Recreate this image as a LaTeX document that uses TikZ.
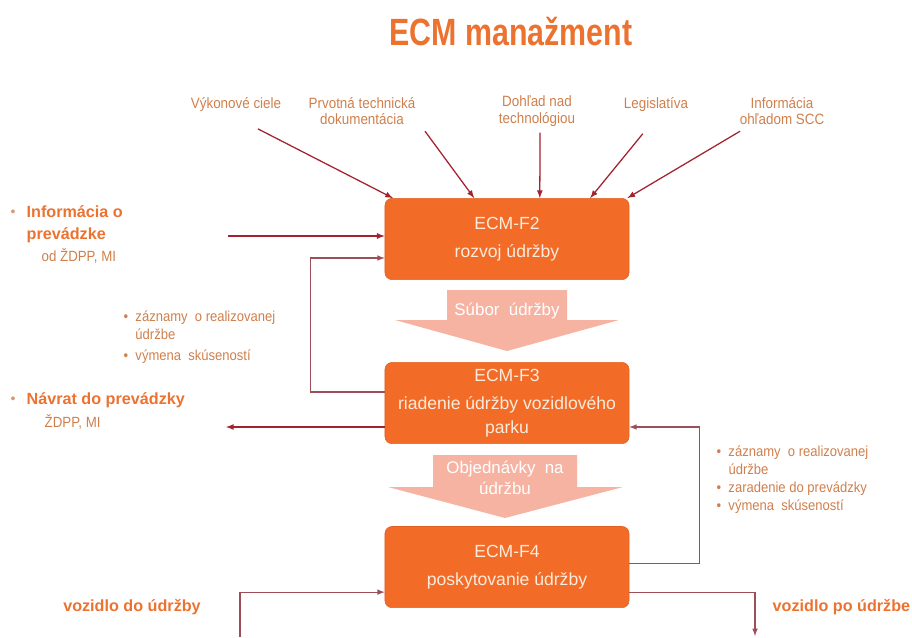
\documentclass[tikz,border=0pt]{standalone}
\usepackage{fontspec}
\setmainfont{Liberation Sans}
\newfontfamily\narrowfont[FakeStretch=0.9]{Liberation Sans}
\newfontfamily\titlefont[FakeStretch=0.8]{Liberation Sans}
\usetikzlibrary{positioning, arrows}

\definecolor{ecmorange}{HTML}{F26B27}
\definecolor{ecmtext}{HTML}{FDEBDB}
\definecolor{ecmline}{HTML}{A3222E}
\definecolor{ecmback}{HTML}{9C4F58}
\definecolor{ecmlabel}{HTML}{EC7230}
\definecolor{ecmsoft}{HTML}{CF7F4C}
\definecolor{ecmpink}{HTML}{F7B3A2}

\tikzset{
  ecmbox/.style={rectangle, rounded corners=5pt, fill=ecmorange, draw=ecmorange!92!black,
    minimum width=6.1cm, minimum height=2.03cm, align=center, text=ecmtext,
    font=\fontsize{12.5}{17}\selectfont},
  flowtext/.style={text=white, align=center, font=\fontsize{12}{14.5}\selectfont},
  topnote/.style={text=ecmsoft, align=center, inner sep=1pt, font=\narrowfont\fontsize{10.6}{11.6}\selectfont},
  boldnote/.style={text=ecmlabel, align=left, inner sep=1pt, font=\bfseries\fontsize{11.5}{15.5}\selectfont},
  softnote/.style={text=ecmsoft, inner sep=1pt, font=\narrowfont\fontsize{10.5}{11}\selectfont},
  listnote/.style={text=ecmsoft, align=left, inner sep=1pt, font=\narrowfont\fontsize{10.3}{12.8}\selectfont},
  dot/.style={text=ecmsoft!80, inner sep=0pt, font=\fontsize{10}{10}\selectfont},
  flowline/.style={draw=ecmline, line width=0.9pt},
  backline/.style={draw=ecmback, line width=0.8pt},
}

\begin{document}
\begin{tikzpicture}[x=0.025cm, y=-0.025cm, node distance=4.1cm, on grid, >=latex]
    \useasboundingbox (0,0) rectangle (912,637);

    \node[text=ecmlabel, font=\titlefont\bfseries\fontsize{27}{30}\selectfont] (ecm) at (511,32) {ECM manažment};

    % main functions
    \node[ecmbox] (f_2) at (507,239) {ECM-F2\\[3pt]rozvoj údržby};
    \node[ecmbox] (f_3) [below=of f_2] {ECM-F3\\[3pt]riadenie údržby vozidlového\\parku};
    \node[ecmbox] (f_4) [below=of f_3] {ECM-F4\\[3pt]poskytovanie údržby};

    % block arrows between functions
    \fill[ecmpink] (447,290) -- (567,290) -- (567,320) -- (619,320) -- (507,351)
        -- (395,320) -- (447,320) -- cycle;
    \node[flowtext] (subor) at (507,311) {Súbor\ \ údržby};
    \fill[ecmpink] (433,455) -- (577,455) -- (577,487) -- (623,487) -- (505,518)
        -- (388,487) -- (433,487) -- cycle;
    \node[flowtext] (objed) at (505,478) {Objednávky\ \ na\\údržbu};

    % inputs from above
    \node[topnote] (ciele) at (236,105) {Výkonové ciele};
    \node[topnote] (dokum) at (362,111) {Prvotná technická\\dokumentácia};
    \node[topnote] (dohlad) at (537,111) {Dohľad nad\\technológiou};
    \node[topnote] (legis) at (656,105) {Legislatíva};
    \node[topnote] (scc) at (782,111) {Informácia\\ohľadom SCC};
    \draw[->, flowline] ([xshift=0.55cm, yshift=-0.38cm]ciele.south) -- ([xshift=-2.85cm]f_2.north);
    \draw[->, flowline] ([xshift=0.2cm, yshift=-0.12cm]dokum.south east) -- ([xshift=-0.82cm]f_2.north);
    \draw[->, flowline] ([xshift=0.075cm, yshift=-0.12cm]dohlad.south) -- ([xshift=0.82cm]f_2.north);
    \draw[->, flowline] ([xshift=-0.33cm, yshift=-0.5cm]legis.south) -- ([xshift=2.08cm]f_2.north);
    \draw[->, flowline] ([xshift=0.05cm, yshift=-0.12cm]scc.south west) -- ([xshift=-0.05cm]f_2.north east);

    % left side
    \node[dot] (dot_1) at (13,213) {•};
    \node[boldnote, anchor=west] (prev_in) at (25,224) {Informácia o\\prevádzke};
    \node[softnote, anchor=west] (zdpp_1) at (40,256) {od ŽDPP, MI};
    \node[dot] (dot_2) at (13,400) {•};
    \node[boldnote, anchor=west] (navrat) at (25,400) {Návrat do prevádzky};
    \node[softnote, anchor=west] (zdpp_2) at (43,422) {ŽDPP, MI};
    \node[listnote, anchor=north west] (zaz_l) at (122,309)
        {•\ \ záznamy\ \ o realizovanej\\\hphantom{•\ \ }údržbe\\[2pt]•\ \ výmena\ \ skúseností};

    % right side
    \node[listnote, anchor=north west] (zaz_r) at (715,444)
        {•\ \ záznamy\ \ o realizovanej\\\hphantom{•\ \ }údržbe\\•\ \ zaradenie\ do prevádzky\\•\ \ výmena\ \ skúseností};

    % vehicles
    \node[boldnote] (veh_do) at (132,607) {vozidlo do údržby};
    \node[boldnote, anchor=west] (veh_po) at (771,607) {vozidlo po údržbe};

    % connectors
    \coordinate (in_l) at (228,236);
    \coordinate (out_l) at (226,427);
    \coordinate (veh_in) at (240,637);
    \coordinate (veh_out) at (755,636);
    \draw[->, flowline] (in_l) -- (in_l -| f_2.west);
    \draw[->, backline] ([yshift=0.275cm]f_3.west) -- ++(-74,0) |- ([yshift=-0.475cm]f_2.west);
    \draw[->, flowline] (out_l -| f_3.west) -- (out_l);
    \draw[->, backline] ([yshift=0.1cm]f_4.east) -- ++(70,0) |- (out_l -| f_3.east);
    \draw[->, backline] ([yshift=-0.625cm]f_4.east) -| (veh_out);
    \draw[->, backline] (veh_in) |- ([yshift=-0.625cm]f_4.west);

\end{tikzpicture}
\end{document}
